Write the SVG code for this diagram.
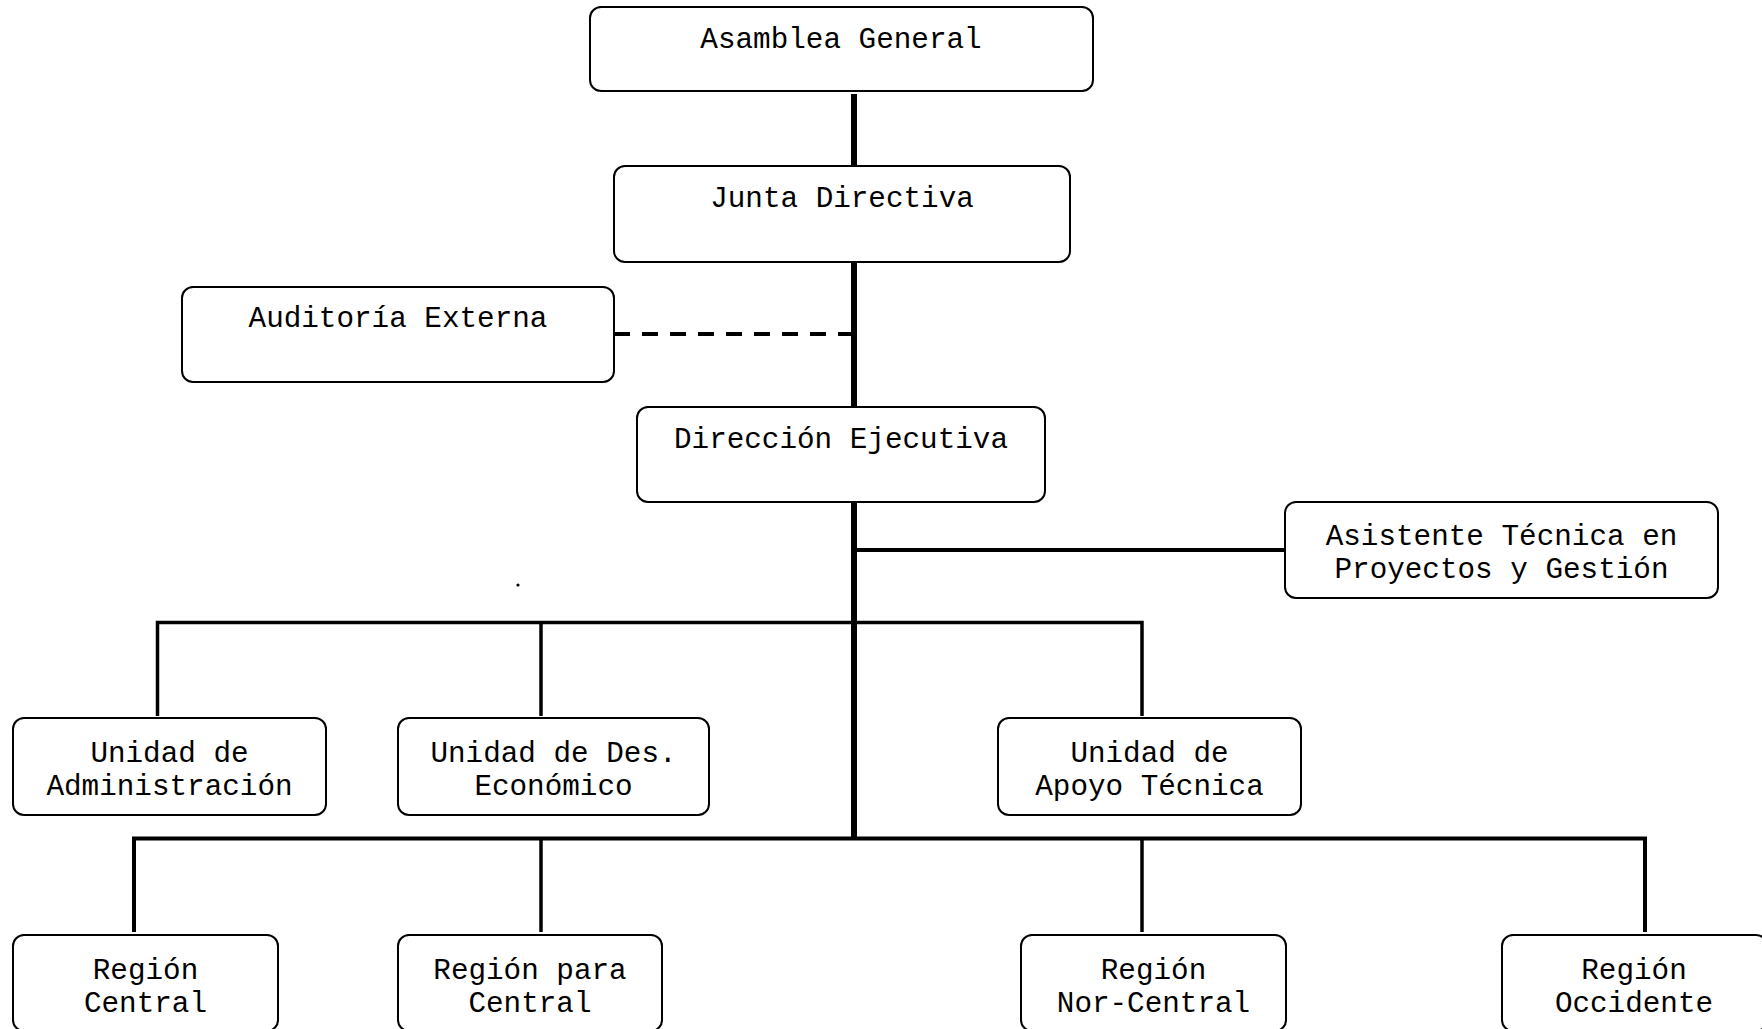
<svg xmlns="http://www.w3.org/2000/svg" width="1762" height="1029" viewBox="0 0 1762 1029">
<style>
.box{fill:#fff;stroke:#000;stroke-width:2}
.t{font-family:"Liberation Mono","Courier New",monospace;font-size:29.3px;fill:#000;text-anchor:middle}
.c{stroke:#000;fill:none;stroke-linecap:butt}
.main{stroke-width:6}
.bar{stroke-width:4}
.drop{stroke-width:3.5}
.dash{stroke-width:4;stroke-dasharray:16 12}
</style>
<rect width="1762" height="1029" fill="#fff"/>
<g id="connectors">
<line class="c main" x1="854" y1="94" x2="854" y2="166"/>
<line class="c main" x1="854" y1="262" x2="854" y2="407"/>
<line class="c main" x1="854" y1="502" x2="854" y2="840"/>
<line class="c dash" x1="614" y1="334" x2="852" y2="334"/>
<line class="c bar" x1="854" y1="550" x2="1285" y2="550"/>
<path class="c drop" d="M157.5 716 V622.5 H1142 V716"/>
<line class="c drop" x1="541" y1="622.5" x2="541" y2="716"/>
<path class="c bar" d="M134 932 V838.5 H1645 V932"/>
<line class="c drop" x1="541" y1="838.5" x2="541" y2="932"/>
<line class="c drop" x1="1142" y1="838.5" x2="1142" y2="932"/>
</g>
<circle cx="518" cy="585" r="1.6" fill="#000"/>
<g id="asamblea"><rect class="box" x="590" y="7" width="503" height="84" rx="11"/><text class="t" x="841" y="48">Asamblea General</text></g>
<g id="junta"><rect class="box" x="614" y="166" width="456" height="96" rx="11"/><text class="t" x="842" y="207">Junta Directiva</text></g>
<g id="auditoria"><rect class="box" x="182" y="287" width="432" height="95" rx="11"/><text class="t" x="398" y="327">Auditoría Externa</text></g>
<g id="direccion"><rect class="box" x="637" y="407" width="408" height="95" rx="11"/><text class="t" x="841" y="448">Dirección Ejecutiva</text></g>
<g id="asistente"><rect class="box" x="1285" y="502" width="433" height="96" rx="11"/><text class="t" x="1501.5" y="545">Asistente Técnica en</text><text class="t" x="1501.5" y="578">Proyectos y Gestión</text></g>
<g id="u-admin"><rect class="box" x="13" y="718" width="313" height="97" rx="11"/><text class="t" x="169.5" y="762">Unidad de</text><text class="t" x="169.5" y="795">Administración</text></g>
<g id="u-des"><rect class="box" x="398" y="718" width="311" height="97" rx="11"/><text class="t" x="553.5" y="762">Unidad de Des.</text><text class="t" x="553.5" y="795">Económico</text></g>
<g id="u-apoyo"><rect class="box" x="998" y="718" width="303" height="97" rx="11"/><text class="t" x="1149.5" y="762">Unidad de</text><text class="t" x="1149.5" y="795">Apoyo Técnica</text></g>
<g id="r-central"><rect class="box" x="13" y="935" width="265" height="96" rx="11"/><text class="t" x="145.5" y="979">Región</text><text class="t" x="145.5" y="1012">Central</text></g>
<g id="r-para"><rect class="box" x="398" y="935" width="264" height="96" rx="11"/><text class="t" x="530" y="979">Región para</text><text class="t" x="530" y="1012">Central</text></g>
<g id="r-norcentral"><rect class="box" x="1021" y="935" width="265" height="96" rx="11"/><text class="t" x="1153.5" y="979">Región</text><text class="t" x="1153.5" y="1012">Nor-Central</text></g>
<g id="r-occidente"><rect class="box" x="1502" y="935" width="265" height="96" rx="11"/><text class="t" x="1634" y="979">Región</text><text class="t" x="1634" y="1012">Occidente</text></g>
</svg>
